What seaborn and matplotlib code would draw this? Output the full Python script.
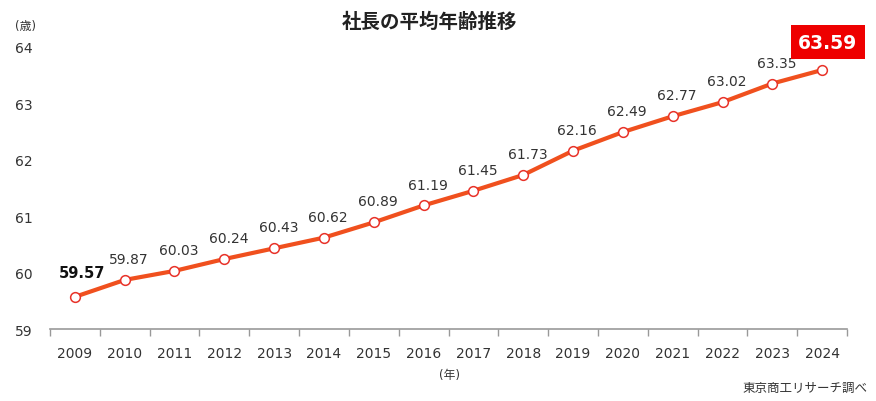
import matplotlib
matplotlib.use("Agg")
import matplotlib.pyplot as plt
import numpy as np
import pandas as pd
import seaborn as sns

# Data
years = ["2009", "2010", "2011", "2012", "2013", "2014", "2015", "2016",
         "2017", "2018", "2019", "2020", "2021", "2022", "2023", "2024"]
ages = [59.57, 59.87, 60.03, 60.24, 60.43, 60.62, 60.89, 61.19,
        61.45, 61.73, 62.16, 62.49, 62.77, 63.02, 63.35, 63.59]
y_ticks = [59, 60, 61, 62, 63, 64]

df = pd.DataFrame({"pos": np.arange(len(years)), "year": years, "age": ages})

sns.set_style("white")
plt.rcParams['font.family'] = ['DejaVu Sans', 'Noto Sans CJK JP']

line_color = "#f0501e"
text_color = "#333333"

fig = plt.figure(figsize=(8.76, 4.02), dpi=100)
ax = fig.add_axes([0.057, 0.179, 0.91, 0.702])

sns.lineplot(data=df, x="pos", y="age", ax=ax, color=line_color, linewidth=3,
             marker="o", markersize=7, markerfacecolor="white",
             markeredgecolor="#e8332a", markeredgewidth=1.1)

ax.set_xlim(-0.5, len(years) - 0.5)
ax.set_ylim(59, 64)
ax.set_yticks(y_ticks)
ax.set_yticklabels([str(t) for t in y_ticks], fontsize=10, color=text_color)
ax.set_xticks(df["pos"])
ax.set_xticklabels(years, fontsize=10, color=text_color)
ax.set_xticks(np.arange(-0.5, len(years), 1), minor=True)
ax.tick_params(axis="x", which="major", bottom=True, length=0, pad=12)
ax.tick_params(axis="x", which="minor", bottom=True, length=5, width=1,
               color="#999999", direction="out")
ax.tick_params(axis="y", length=0, pad=25)
for lbl in ax.get_yticklabels():
    lbl.set_horizontalalignment("left")

for side in ["top", "right", "left"]:
    ax.spines[side].set_visible(False)
ax.spines["bottom"].set_color("#999999")
ax.spines["bottom"].set_linewidth(1.2)
ax.set_xlabel("")
ax.set_ylabel("")

# Data labels
n = len(years)
for i, v in enumerate(ages):
    if i == 0:
        ax.annotate(f"{v:.2f}", (i, v), xytext=(5, 12), textcoords="offset points",
                    ha="center", va="bottom", fontsize=10.5, fontweight="bold", color="#111111")
    elif i == n - 1:
        ax.annotate(f"{v:.2f}", (i, v), xytext=(4, 20), textcoords="offset points",
                    ha="center", va="center", fontsize=13.5, fontweight="bold", color="white",
                    bbox=dict(boxstyle="square,pad=0.4", fc="#ee0000", ec="none"))
    else:
        ax.annotate(f"{v:.2f}", (i, v), xytext=(3, 10), textcoords="offset points",
                    ha="center", va="bottom", fontsize=10, color=text_color)

fig.text(0.49, 0.945, "社長の平均年齢推移", ha="center", va="center",
         fontsize=14, fontweight="bold", color="#222222")
fig.text(0.017, 0.935, "(歳)", ha="left", va="center", fontsize=8.5, color=text_color)
fig.text(0.513, 0.067, "(年)", ha="center", va="center", fontsize=8.5, color=text_color)
fig.text(0.99, 0.035, "東京商工リサーチ調べ", ha="right", va="center", fontsize=9, color=text_color)

fig.savefig("out.png", dpi=100)
